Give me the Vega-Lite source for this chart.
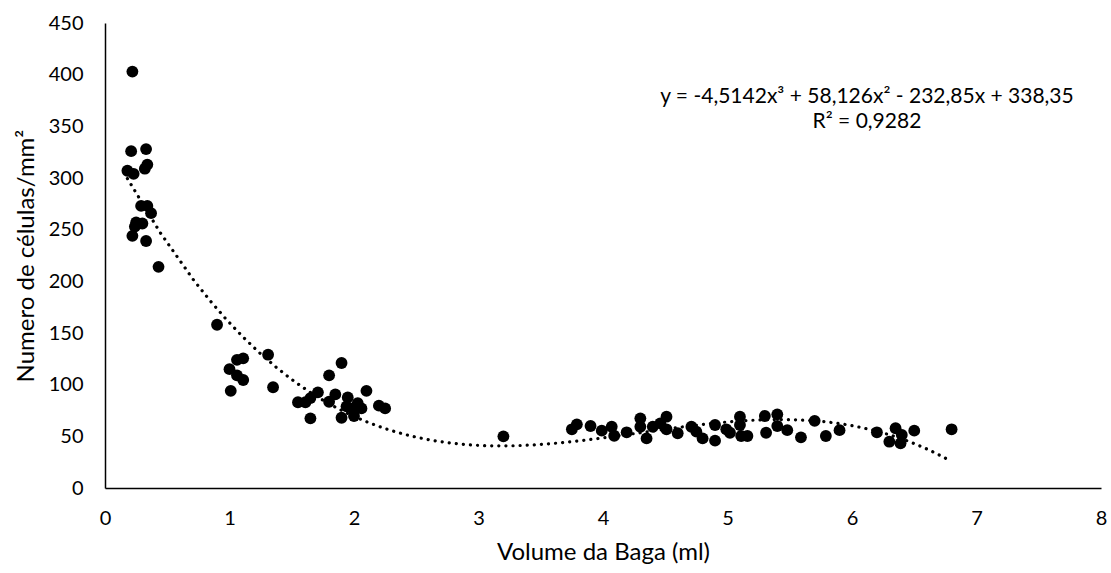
{
  "$schema": "https://vega.github.io/schema/vega-lite/v6.json",
  "width": 996,
  "height": 465,
  "autosize": {"type": "none"},
  "padding": {"left": 105, "top": 23, "right": 10, "bottom": 85},
  "background": "white",
  "config": {
    "view": {"stroke": null},
    "font": "Lato",
    "axis": {
      "grid": false,
      "ticks": false,
      "domainColor": "#000",
      "domainWidth": 1.5,
      "labelColor": "#000",
      "titleColor": "#000",
      "labelFont": "Lato",
      "titleFont": "Lato",
      "labelFontSize": 20,
      "titleFontSize": 24,
      "titleFontWeight": "normal",
      "labelFlush": false,
      "labelOverlap": false
    }
  },
  "datasets": {
    "pts": [
      {"volume": 0.22, "celulas": 403},
      {"volume": 0.21, "celulas": 326},
      {"volume": 0.33, "celulas": 328},
      {"volume": 0.34, "celulas": 313},
      {"volume": 0.32, "celulas": 309},
      {"volume": 0.18, "celulas": 307},
      {"volume": 0.23, "celulas": 304},
      {"volume": 0.29, "celulas": 273},
      {"volume": 0.34, "celulas": 273},
      {"volume": 0.37, "celulas": 266},
      {"volume": 0.25, "celulas": 257},
      {"volume": 0.30, "celulas": 256},
      {"volume": 0.24, "celulas": 253},
      {"volume": 0.22, "celulas": 244},
      {"volume": 0.33, "celulas": 239},
      {"volume": 0.43, "celulas": 214},
      {"volume": 0.90, "celulas": 158},
      {"volume": 1.11, "celulas": 125.5},
      {"volume": 1.06, "celulas": 124},
      {"volume": 1.00, "celulas": 115},
      {"volume": 1.06, "celulas": 109},
      {"volume": 1.11, "celulas": 104.5},
      {"volume": 1.01, "celulas": 94},
      {"volume": 1.31, "celulas": 129},
      {"volume": 1.35, "celulas": 97.5},
      {"volume": 1.90, "celulas": 121},
      {"volume": 1.80, "celulas": 109},
      {"volume": 1.55, "celulas": 83},
      {"volume": 1.61, "celulas": 83},
      {"volume": 1.65, "celulas": 87},
      {"volume": 1.71, "celulas": 92.6},
      {"volume": 1.65, "celulas": 67.4},
      {"volume": 1.80, "celulas": 83.5},
      {"volume": 1.85, "celulas": 90.6},
      {"volume": 1.95, "celulas": 87.7},
      {"volume": 1.94, "celulas": 79},
      {"volume": 1.90, "celulas": 68},
      {"volume": 2.00, "celulas": 69.7},
      {"volume": 2.03, "celulas": 82},
      {"volume": 2.06, "celulas": 77},
      {"volume": 2.10, "celulas": 94},
      {"volume": 1.99, "celulas": 77},
      {"volume": 2.20, "celulas": 79.7},
      {"volume": 2.25, "celulas": 77},
      {"volume": 3.20, "celulas": 50},
      {"volume": 3.75, "celulas": 56.8},
      {"volume": 3.79, "celulas": 61.6},
      {"volume": 3.90, "celulas": 60},
      {"volume": 3.99, "celulas": 55.5},
      {"volume": 4.07, "celulas": 59.3},
      {"volume": 4.09, "celulas": 50.6},
      {"volume": 4.19, "celulas": 53.9},
      {"volume": 4.30, "celulas": 67.4},
      {"volume": 4.30, "celulas": 59.3},
      {"volume": 4.35, "celulas": 48},
      {"volume": 4.40, "celulas": 59.3},
      {"volume": 4.46, "celulas": 62.6},
      {"volume": 4.51, "celulas": 69},
      {"volume": 4.51, "celulas": 56.8},
      {"volume": 4.60, "celulas": 53},
      {"volume": 4.71, "celulas": 59.3},
      {"volume": 4.75, "celulas": 54.5},
      {"volume": 4.80, "celulas": 48},
      {"volume": 4.90, "celulas": 61},
      {"volume": 4.90, "celulas": 45.8},
      {"volume": 4.99, "celulas": 56.8},
      {"volume": 5.02, "celulas": 53.5},
      {"volume": 5.10, "celulas": 69},
      {"volume": 5.10, "celulas": 61},
      {"volume": 5.11, "celulas": 50.3},
      {"volume": 5.16, "celulas": 50.3},
      {"volume": 5.30, "celulas": 69.7},
      {"volume": 5.31, "celulas": 53.5},
      {"volume": 5.40, "celulas": 71.3},
      {"volume": 5.40, "celulas": 60},
      {"volume": 5.48, "celulas": 56},
      {"volume": 5.59, "celulas": 49},
      {"volume": 5.70, "celulas": 65},
      {"volume": 5.79, "celulas": 50.3},
      {"volume": 5.90, "celulas": 56},
      {"volume": 6.20, "celulas": 53.9},
      {"volume": 6.35, "celulas": 57.8},
      {"volume": 6.30, "celulas": 44.8},
      {"volume": 6.40, "celulas": 51.3},
      {"volume": 6.39, "celulas": 43.2},
      {"volume": 6.50, "celulas": 55.5},
      {"volume": 6.80, "celulas": 56.8}
    ],
    "notes": [
      {"label": "y = -4,5142x³ + 58,126x² - 232,85x + 338,35", "volume": 6.12, "celulas": 378},
      {"label": "R² = 0,9282", "volume": 6.12, "celulas": 354}
    ]
  },
  "layer": [
    {
      "data": {"name": "pts"},
      "transform": [
        {"regression": "celulas", "on": "volume", "method": "poly", "order": 3}
      ],
      "mark": {"type": "line", "color": "#000", "strokeWidth": 3.2, "strokeDash": [0.1, 7], "strokeCap": "round"},
      "encoding": {
        "x": {"field": "volume", "type": "quantitative"},
        "y": {"field": "celulas", "type": "quantitative"}
      }
    },
    {
      "data": {"name": "pts"},
      "mark": {"type": "circle", "color": "#000", "opacity": 1, "size": 140},
      "encoding": {
        "x": {
          "field": "volume",
          "type": "quantitative",
          "scale": {"domain": [0, 8], "nice": false, "zero": true},
          "axis": {"values": [0, 1, 2, 3, 4, 5, 6, 7, 8], "format": "d", "title": "Volume da Baga (ml)", "labelPadding": 20, "titlePadding": 12}
        },
        "y": {
          "field": "celulas",
          "type": "quantitative",
          "scale": {"domain": [0, 450], "nice": false},
          "axis": {"values": [0, 50, 100, 150, 200, 250, 300, 350, 400, 450], "format": "d", "title": "Numero de células/mm²", "labelPadding": 22, "titlePadding": 10}
        }
      }
    },
    {
      "data": {"name": "notes"},
      "mark": {"type": "text", "font": "Lato", "fontSize": 21, "color": "#000", "align": "center", "baseline": "middle"},
      "encoding": {
        "x": {"field": "volume", "type": "quantitative"},
        "y": {"field": "celulas", "type": "quantitative"},
        "text": {"field": "label"}
      }
    }
  ]
}
